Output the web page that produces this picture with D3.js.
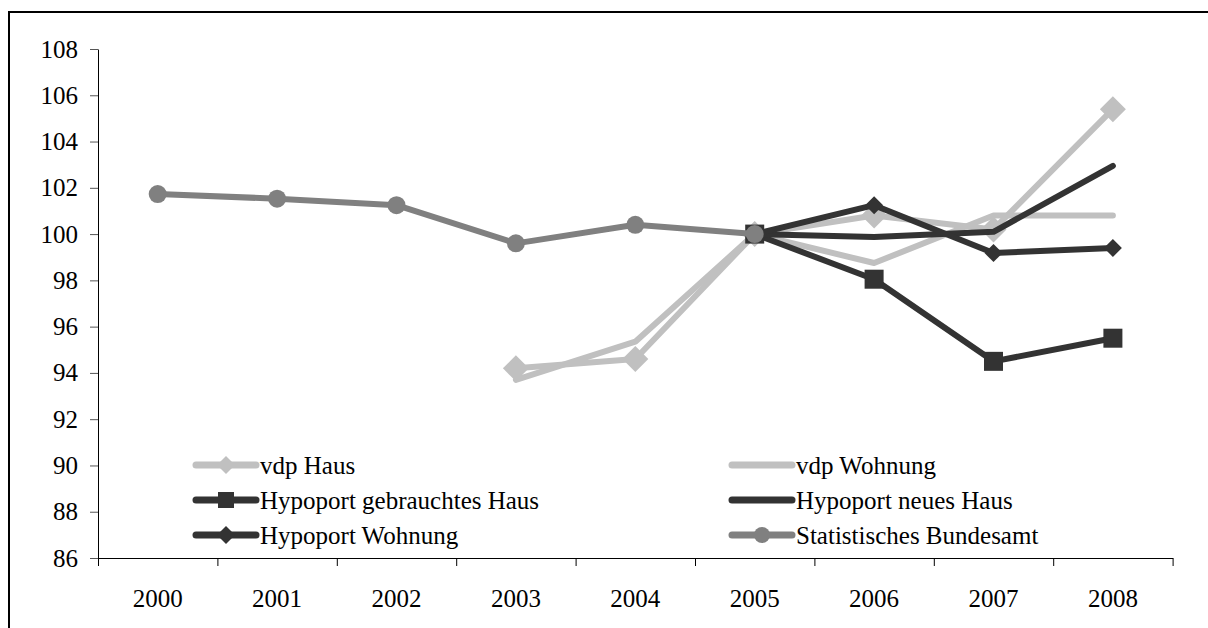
<!DOCTYPE html>
<html lang="de">
<head>
<meta charset="utf-8">
<script src="https://cdnjs.cloudflare.com/ajax/libs/d3/7.8.5/d3.min.js"></script>
<style>
body { margin: 0; background: #fff; }
text { font-family: "Liberation Serif", "Times New Roman", serif; }
</style>
</head>
<body>
<script>
// data
var years = ["2000", "2001", "2002", "2003", "2004", "2005", "2006", "2007", "2008"]
var yTicks = [86, 88, 90, 92, 94, 96, 98, 100, 102, 104, 106, 108]

var vdpHaus          = [null, null, null, 94.2, 94.6, 100, 100.8, 100.2, 105.4]
var vdpWohnung       = [null, null, null, 93.7, 95.35, 100, 98.75, 100.8, 100.8]
var hypoGebraucht    = [null, null, null, null, null, 100, 98.05, 94.5, 95.5]
var hypoNeu          = [null, null, null, null, null, 100, 99.87, 100.1, 102.95]
var hypoWohnung      = [null, null, null, null, null, 100, 101.25, 99.18, 99.4]
var statBundesamt    = [101.73, 101.53, 101.25, 99.6, 100.4, 100, null, null, null]

var series = [
    {name: "vdp Haus", values: vdpHaus, color: "#c0c0c0", marker: "diamond", size: 13},
    {name: "vdp Wohnung", values: vdpWohnung, color: "#c0c0c0", marker: null},
    {name: "Hypoport gebrauchtes Haus", values: hypoGebraucht, color: "#333333", marker: "square", size: 9.5},
    {name: "Hypoport neues Haus", values: hypoNeu, color: "#333333", marker: null},
    {name: "Hypoport Wohnung", values: hypoWohnung, color: "#333333", marker: "diamond", size: 9},
    {name: "Statistisches Bundesamt", values: statBundesamt, color: "#808080", marker: "circle", size: 9}
]

var W = 1208, H = 628
var svg = d3.select("body").append("svg").attr("width", W).attr("height", H)

// outer frame
svg.append("rect")
    .attr("x", 9).attr("y", 12)
    .attr("width", 1220).attr("height", 640)
    .attr("fill", "none").attr("stroke", "#000").attr("stroke-width", 2)

var mLeft = 98, mRight = 1172.6, mTop = 49, mBottom = 558

var x = d3.scaleBand().domain(years).range([mLeft, mRight])
var xi = d3.scaleLinear().domain([0, years.length]).range([mLeft, mRight])
var y = d3.scaleLinear().domain([86, 108]).range([mBottom, mTop])

// y axis
var yAxis = svg.append("g")
    .attr("transform", "translate(" + mLeft + ",0)")
    .call(d3.axisLeft(y).tickValues(yTicks).tickSize(8).tickSizeOuter(0).tickPadding(12))
yAxis.selectAll("text").attr("font-size", 25).attr("fill", "#000")
    .style("font-family", "'Liberation Serif', serif")
yAxis.selectAll("line").attr("stroke", "#555")
yAxis.select(".domain").attr("stroke", "#000")

// x axis tick marks at category edges
var xAxis = svg.append("g")
    .attr("transform", "translate(0," + mBottom + ")")
    .call(d3.axisBottom(xi).tickValues(d3.range(years.length + 1)).tickFormat("").tickSize(8).tickSizeOuter(0))
xAxis.select(".domain").attr("stroke", "#000")
xAxis.selectAll("line").attr("stroke", "#000")

// x labels
var xLab = svg.append("g")
    .attr("transform", "translate(0," + mBottom + ")")
    .call(d3.axisBottom(x).tickSize(0).tickPadding(31))
xLab.select(".domain").remove()
xLab.selectAll("text").attr("font-size", 25).attr("fill", "#000")
    .style("font-family", "'Liberation Serif', serif")

function cx(i) { return x(years[i]) + x.bandwidth() / 2 }

function drawMarker(g, s, px, py) {
    if (s.marker === "diamond") {
        var r = s.size
        g.append("path")
            .attr("d", "M" + px + "," + (py - r) + "L" + (px + r) + "," + py + "L" + px + "," + (py + r) + "L" + (px - r) + "," + py + "Z")
            .attr("fill", s.color)
    } else if (s.marker === "square") {
        var h = s.size
        g.append("rect").attr("x", px - h).attr("y", py - h)
            .attr("width", 2 * h).attr("height", 2 * h).attr("fill", s.color)
    } else if (s.marker === "circle") {
        g.append("circle").attr("cx", px).attr("cy", py).attr("r", s.size).attr("fill", s.color)
    }
}

var line = d3.line()
    .defined(function(d) { return d != null })
    .x(function(d, i) { return cx(i) })
    .y(function(d) { return y(d) })

series.forEach(function(s) {
    var g = svg.append("g")
    g.append("path")
        .attr("d", line(s.values))
        .attr("fill", "none")
        .attr("stroke", s.color)
        .attr("stroke-width", 6)
        .attr("stroke-linecap", "round")
        .attr("stroke-linejoin", "round")
    s.values.forEach(function(v, i) {
        if (v != null) drawMarker(g, s, cx(i), y(v))
    })
})

// legend
var legCols = [196, 732]
var legRows = [465, 500, 535]
series.forEach(function(s, k) {
    var lx = legCols[k % 2], ly = legRows[Math.floor(k / 2)]
    var g = svg.append("g")
    g.append("line")
        .attr("x1", lx).attr("x2", lx + 60)
        .attr("y1", ly).attr("y2", ly)
        .attr("stroke", s.color).attr("stroke-width", 7)
        .attr("stroke-linecap", "round")
    if (s.marker) drawMarker(g, {marker: s.marker, color: s.color, size: s.marker === "diamond" ? 9 : 8}, lx + 30, ly)
    g.append("text")
        .attr("x", lx + 64).attr("y", ly)
        .attr("dy", "0.35em")
        .attr("font-size", 25)
        .attr("fill", "#000")
        .text(s.name)
})
</script>
</body>
</html>
